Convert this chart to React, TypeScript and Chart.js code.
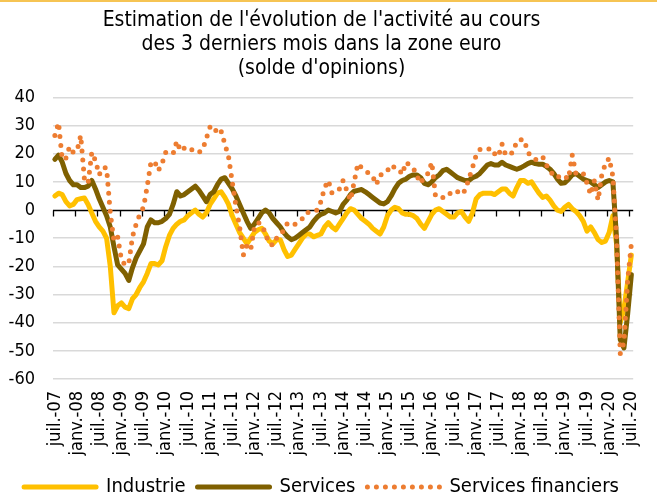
import React, { useEffect, useRef } from "react";
import { Chart, registerables } from "chart.js";

Chart.register(...registerables);

const FONT = "'DejaVu Sans Condensed', 'DejaVu Sans', sans-serif";

const monthNames = ["janv.", "févr.", "mars", "avr.", "mai", "juin", "juil.", "août", "sept.", "oct.", "nov.", "déc."];
const startYear = 2007;
const startMonth = 6; // juillet

const industrie = [
  5, 6, 5.5, 3, 1.5, 2, 3.7, 4, 4.3, 2,
  -1, -4, -6, -7.5, -10, -20, -36.5, -34, -33, -34.5,
  -35, -31.5, -30, -27.5, -25.5, -22.5, -19, -19, -19.5, -18,
  -13, -9, -6.5, -5, -4, -3.5, -2, -1, 0, -1.5,
  -2.5, -1, 2, 4, 6, 6.5, 4.5, 2, -2, -5,
  -8, -10, -12, -10, -8, -7, -6.5, -8.5, -11, -12,
  -10.5, -10.5, -14, -16.5, -16, -14, -12, -10, -8.5, -8.5,
  -9.5, -9, -8.5, -6, -4.5, -6, -7, -5, -3, -1,
  0.5, 0, -1.5, -3, -4, -5, -6.5, -7.5, -8.5, -6,
  -2, 0, 1, 0.5, -1, -1.5, -1.5, -2, -3, -5,
  -6.5, -4, -1.5, 0, 0.5, -0.5, -1.5, -2.5, -2.5, -1,
  -0.5, -2.5, -4, -1, 4, 5.5, 6, 6, 6, 5.5,
  6.5, 7.5, 7.5, 6, 5, 8, 10.5, 10.5, 9.5, 10,
  8, 6, 4.5, 5, 3.5, 1.5, 0, -0.5, 1, 2,
  0.5, -0.5, -2, -4, -7.5, -6, -8, -10.5, -11.5, -11,
  -8, -2, -12, -40, -35, -25.6, -16,
];

const services = [
  18, 19.5, 17, 13, 10.5, 9, 9, 8, 8, 8.5,
  10.5, 7.5, 4, 1, -2, -6, -13, -19.5, -21, -22.5,
  -25, -20.5, -17, -14.5, -12, -6, -3.5, -4.5, -4.5, -4,
  -3, -1.5, 2, 6.5, 5, 5.5, 6.5, 7.5, 8.5, 7,
  5, 3, 5.5, 6.5, 9, 11, 11.5, 9.5, 7.5, 5,
  2, -1, -4, -6.5, -5, -3, -1, 0, -1, -3,
  -4.5, -6, -8, -9.5, -10.5, -10, -9, -8, -7, -6,
  -4, -2.5, -1.5, -1, 0, -0.5, -1, -0.5, 2, 3.5,
  5.5, 6.7, 7, 7.3, 6.5, 5.5, 4.5, 3.5, 2.5, 2.2,
  3, 5, 7.5, 9.5, 10.5, 11, 12, 12.5, 12.5, 11.5,
  9.5, 9, 10, 11.5, 12.5, 14, 14.5, 13.5, 12.5, 11.5,
  11, 10.5, 10.5, 11.5, 12, 13, 14.5, 16, 16.5, 16,
  16, 17, 16, 15.5, 15, 14.5, 15, 15.7, 16.5, 17,
  16.5, 16.3, 16.3, 15.5, 14.5, 13, 11, 9.5, 9.7, 11,
  12.5, 13, 12, 11, 10.5, 10, 9, 8, 9, 10,
  10.5, 10, -10, -46, -49, -37, -23,
];

const servicesFinanciers = [
  26.5, 31, 18, 18.5, 22.5, 20.5, 21, 26.5, 11, 9.5,
  20.5, 17.5, 12.5, 15, 15, -1, -11, -9.5, -17.5, -19.5,
  -19, -9.5, -5, -1.5, 1, 8.5, 17, 17.3, 14, 16.5,
  20.5, 20.5, 20, 24.5, 21, 22, 22.5, 21.5, 20.5, 20.5,
  21.5, 25.5, 29.5, 29.8, 27, 28, 23.5, 19, 10, 1.5,
  -6, -16, -12.5, -14, -6, -4.5, -5, -8.5, -12, -12.5,
  -10, -9, -7, -4.5, -5, -5, -4, -3, -1, -0.7,
  -0.5, 0, 3, 8, 10.5, 6, 6.5, 7.5, 10.5, 7,
  3.5, 10, 16.5, 15, 14, 13, 12, 9, 12.5, 12.7,
  14, 16, 15, 14.7, 12.7, 17, 16, 15, 12, 9.5,
  12, 13, 17, 5, 5, 4.5, 4.5, 6, 7, 6.5,
  5.5, 7, 11, 15, 19.5, 21.5, 21.5, 21.5, 22, 20,
  19, 23.5, 19.5, 20, 20.5, 24.5, 25, 25, 20.5, 19,
  18, 18, 19, 16, 14, 12, 11.5, 12.5, 12, 11,
  19.5, 13, 13.5, 13, 9.5, 5.5, 10.5, 3.5, 12.5, 16.5,
  18.5, 12, -10, -51, -47, -25, -12,
];

const categories = industrie.map((_, i) => {
  const m = (startMonth + i) % 12;
  const y = startYear + Math.floor((startMonth + i) / 12);
  return `${monthNames[m]}-${String(y % 100).padStart(2, "0")}`;
});

const titleLines = [
  "Estimation de l'évolution de l'activité au cours",
  "des 3 derniers mois dans la zone euro",
  "(solde d'opinions)",
];

const zeroAxisPlugin = {
  id: "zeroAxis",
  beforeDatasetsDraw(chart: any) {
    const { ctx, chartArea, scales } = chart;
    const x = scales.x;
    const y = scales.y;
    const y0 = Math.round(y.getPixelForValue(0)) + 0.5;
    const half = (x.getPixelForValue(1) - x.getPixelForValue(0)) / 2;
    ctx.save();
    ctx.strokeStyle = "#000000";
    ctx.lineWidth = 1.3;
    ctx.beginPath();
    ctx.moveTo(chartArea.left, y0);
    ctx.lineTo(chartArea.right, y0);
    for (let i = 0; i < chart.data.labels.length; i += 6) {
      const px = Math.round(x.getPixelForValue(i) - half) + 0.5;
      ctx.moveTo(px, y0);
      ctx.lineTo(px, y0 + 6);
    }
    ctx.stroke();
    ctx.restore();
  },
};

export default function App() {
  const canvasRef = useRef<HTMLCanvasElement | null>(null);

  useEffect(() => {
    document.body.style.margin = "0";
    const canvas = canvasRef.current;
    if (!canvas) return;
    const chart = new Chart(canvas, {
      type: "line",
      data: {
        labels: categories,
        datasets: [
          {
            label: "Industrie",
            data: industrie,
            borderColor: "#FFC000",
            backgroundColor: "#FFC000",
            borderWidth: 5,
            borderCapStyle: "round",
            borderJoinStyle: "round",
            pointRadius: 0,
            order: 3,
          },
          {
            label: "Services",
            data: services,
            borderColor: "#7F6000",
            backgroundColor: "#7F6000",
            borderWidth: 5,
            borderCapStyle: "round",
            borderJoinStyle: "round",
            pointRadius: 0,
            order: 2,
          },
          {
            label: "Services financiers",
            data: servicesFinanciers,
            borderColor: "#ED7D31",
            backgroundColor: "#ED7D31",
            borderWidth: 5,
            borderDash: [0, 9],
            borderCapStyle: "round",
            borderJoinStyle: "round",
            pointRadius: 0,
            order: 1,
          },
        ],
      },
      options: {
        animation: false,
        responsive: false,
        maintainAspectRatio: false,
        layout: { padding: { left: 4, right: 18, top: 0, bottom: -8 } },
        elements: { line: { tension: 0 } },
        plugins: {
          title: {
            display: true,
            text: titleLines,
            color: "#000000",
            font: { family: FONT, size: 21, weight: "normal", lineHeight: 1.15 },
            padding: { top: 8, bottom: 17 },
          },
          legend: {
            position: "bottom",
            labels: {
              boxWidth: 72,
              boxHeight: 0,
              padding: 12,
              color: "#000000",
              font: { family: FONT, size: 20 },
              sort: (a: any, b: any) => a.datasetIndex - b.datasetIndex,
            },
          },
          tooltip: { enabled: false },
        },
        scales: {
          x: {
            type: "category",
            offset: true,
            grid: { display: false },
            border: { display: false },
            afterFit: (scale: any) => {
              scale.height = 86;
            },
            ticks: {
              autoSkip: false,
              minRotation: 90,
              maxRotation: 90,
              color: "#000000",
              padding: 4,
              font: { family: FONT, size: 18 },
              callback: (_v: any, i: number) => (i % 6 === 0 ? categories[i] : null),
            },
          },
          y: {
            min: -60,
            max: 40,
            border: { display: false },
            grid: {
              color: (c: any) => (c.tick && c.tick.value === 0 ? "rgba(0,0,0,0)" : "#D9D9D9"),
              lineWidth: 1.5,
              drawTicks: false,
            },
            afterFit: (scale: any) => {
              scale.width = 49;
            },
            ticks: {
              stepSize: 10,
              color: "#000000",
              padding: 18,
              font: { family: FONT, size: 18 },
            },
          },
        },
      },
      plugins: [zeroAxisPlugin],
    });
    return () => chart.destroy();
  }, []);

  return (
    <div style={{ position: "relative", width: 657, height: 499, background: "#ffffff" }}>
      <div style={{ position: "absolute", left: 0, top: 0, width: 657, height: 2, background: "#F6C453" }} />
      <canvas ref={canvasRef} width={657} height={499} style={{ display: "block" }} />
    </div>
  );
}
